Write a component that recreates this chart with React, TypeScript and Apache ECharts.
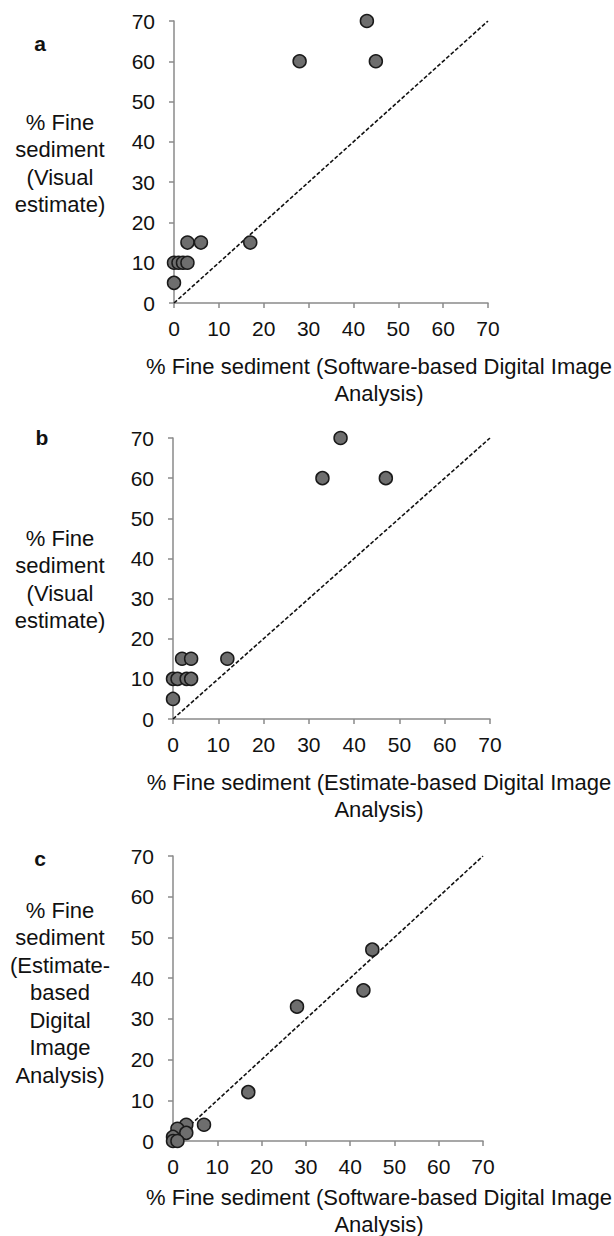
import React, { useEffect, useRef } from "react";
import * as echarts from "echarts";

const ticks = [0, 10, 20, 30, 40, 50, 60, 70];

// Panel a: x = software-based DIA, y = visual estimate
const panelA: number[][] = [
  [43, 70], [28, 60], [45, 60], [17, 15], [3, 15], [6, 15],
  [0, 10], [1, 10], [2, 10], [3, 10], [0, 5],
];
// Panel b: x = estimate-based DIA, y = visual estimate
const panelB: number[][] = [
  [37, 70], [33, 60], [47, 60], [12, 15], [2, 15], [4, 15],
  [0, 10], [1, 10], [3, 10], [4, 10], [0, 5],
];
// Panel c: x = software-based DIA, y = estimate-based DIA
const panelC: number[][] = [
  [45, 47], [43, 37], [28, 33], [17, 12], [7, 4], [3, 4],
  [1, 3], [3, 2], [0, 1], [0, 0], [1, 0],
];
const oneToOne: number[][] = [[0, 0], [70, 70]];

const panelLetters = ["a", "b", "c"];
const yTitles = [
  ["% Fine", "sediment", "(Visual", "estimate)"],
  ["% Fine", "sediment", "(Visual", "estimate)"],
  ["% Fine", "sediment", "(Estimate-", "based", "Digital", "Image", "Analysis)"],
];
const xTitles = [
  ["% Fine sediment (Software-based Digital Image", "Analysis)"],
  ["% Fine sediment (Estimate-based Digital Image", "Analysis)"],
  ["% Fine sediment (Software-based Digital Image", "Analysis)"],
];

const FONT = "Liberation Sans, Arial, sans-serif";

export default function App() {
  const ref = useRef<HTMLDivElement>(null);
  useEffect(() => {
    document.body.style.margin = "0";
    const chart = echarts.init(ref.current!, null, { renderer: "svg" });
    const grids = [
      { left: 174, top: 21, width: 314, height: 282 },
      { left: 173, top: 438, width: 317, height: 281 },
      { left: 173, top: 856, width: 310, height: 285 },
    ];
    const axisCommon = {
      type: "value",
      min: ticks[0],
      max: ticks[ticks.length - 1],
      interval: 10,
      axisLine: { show: true, lineStyle: { color: "#8a8a8a", width: 1.5 } },
      axisTick: { show: true, length: 5, lineStyle: { color: "#8a8a8a", width: 1.5 } },
      splitLine: { show: false },
      axisLabel: { color: "#111", fontSize: 21, fontFamily: FONT },
    };
    const xAxis = grids.map((_, i) => ({
      ...axisCommon,
      gridIndex: i,
      axisLabel: { ...axisCommon.axisLabel, margin: 15 },
    }));
    const yAxis = grids.map((_, i) => ({
      ...axisCommon,
      gridIndex: i,
      axisLabel: { ...axisCommon.axisLabel, margin: 19 },
    }));
    const datasets = [panelA, panelB, panelC];
    const series: any[] = [];
    datasets.forEach((d, i) => {
      series.push({
        type: "line",
        xAxisIndex: i,
        yAxisIndex: i,
        data: oneToOne,
        symbol: "none",
        lineStyle: { color: "#111", width: 1.6, type: [4, 2] },
        z: 1,
      });
      series.push({
        type: "scatter",
        xAxisIndex: i,
        yAxisIndex: i,
        data: d,
        symbolSize: 13,
        itemStyle: { color: "#6e6e6e", borderColor: "#1a1a1a", borderWidth: 1.5, opacity: 1 },
        z: 3,
      });
    });

    const letterPos = [
      [40, 43],
      [42, 437],
      [40, 858],
    ];
    const yTitleTop = [122, 538, 910];
    const xTitleTop = [366, 782, 1197];
    const graphic: any[] = [];
    panelLetters.forEach((l, i) => {
      graphic.push({
        type: "text",
        x: letterPos[i][0],
        y: letterPos[i][1],
        style: {
          text: l,
          font: `bold 21px ${FONT}`,
          fill: "#111",
          textAlign: "center",
          textVerticalAlign: "middle",
        },
      });
      yTitles[i].forEach((t, j) => {
        graphic.push({
          type: "text",
          x: 60,
          y: yTitleTop[i] + j * 27.5,
          style: {
            text: t,
            font: `22px ${FONT}`,
            fill: "#111",
            textAlign: "center",
            textVerticalAlign: "middle",
          },
        });
      });
      xTitles[i].forEach((t, j) => {
        graphic.push({
          type: "text",
          x: 379,
          y: xTitleTop[i] + j * 27,
          style: {
            text: t,
            font: `22px ${FONT}`,
            fill: "#111",
            textAlign: "center",
            textVerticalAlign: "middle",
          },
        });
      });
    });

    chart.setOption({
      animation: false,
      backgroundColor: "#fff",
      grid: grids,
      xAxis,
      yAxis,
      series,
      graphic,
    });
    return () => chart.dispose();
  }, []);
  return <div ref={ref} style={{ width: 614, height: 1236 }} />;
}
